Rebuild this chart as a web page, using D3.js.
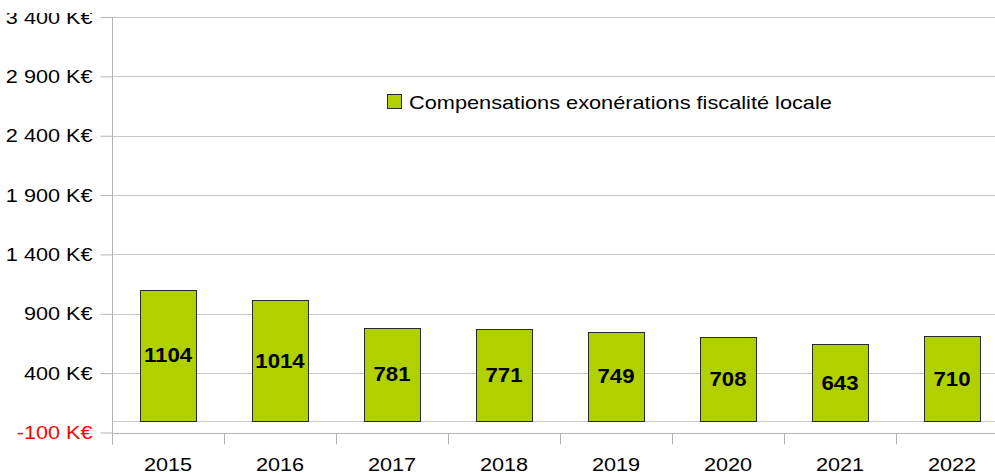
<!DOCTYPE html>
<html>
<head>
<meta charset="utf-8">
<script src="https://cdn.jsdelivr.net/npm/d3@7"></script>
<style>
  body { margin: 0; background: #fff; }
  svg { display: block; font-family: "Liberation Sans", Arial, sans-serif; }
</style>
</head>
<body>
<svg id="chart"></svg>
<script>
const years  = ["2015", "2016", "2017", "2018", "2019", "2020", "2021", "2022"]
const values = [1104, 1014, 781, 771, 749, 708, 643, 710]
const yTicks = [-100, 400, 900, 1400, 1900, 2400, 2900, 3400]
const seriesName = "Compensations exonérations fiscalité locale"

const width = 995, height = 473
const plotLeft = 112, plotRight = 1008, plotTop = 17, plotBottom = 432.5
const stretch = 1.14   // text in the source is a bit wider than tall

const svg = d3.select("#chart").attr("width", width).attr("height", height)

// top of the picture is cropped a little
svg.append("clipPath").attr("id", "crop")
  .append("rect").attr("x", 0).attr("y", 13).attr("width", width).attr("height", height)

const x = d3.scaleBand().domain(years).range([plotLeft, plotRight]).paddingInner(0.5).paddingOuter(0.25)
const y = d3.scaleLinear().domain([-100, 3400]).range([plotBottom, plotTop])

const fmt = v => (v < 0 ? "-" : "") + d3.format(",")(Math.abs(v)).replace(/,/g, " ") + " K€"

// gridlines
svg.append("g")
  .selectAll("line")
  .data(yTicks.concat([0]))
  .join("line")
    .attr("x1", plotLeft).attr("x2", plotRight)
    .attr("y1", d => Math.round(y(d)) + 0.5).attr("y2", d => Math.round(y(d)) + 0.5)
    .attr("stroke", "#c8c8c8")

// y axis
const yAxis = svg.append("g")
  .attr("clip-path", "url(#crop)")
  .append("g")
  .attr("transform", `translate(${plotLeft + 0.5},0)`)
  .call(d3.axisLeft(y).tickValues(yTicks).tickFormat(fmt).tickSize(12).tickSizeOuter(0))
yAxis.select(".domain").attr("stroke", "#b3b3b3").attr("d", `M0,${plotTop}V${plotBottom + 12}`)
yAxis.selectAll(".tick line").attr("stroke", "#b3b3b3")
yAxis.selectAll(".tick text")
  .attr("x", 0)
  .attr("transform", `translate(-20,0) scale(${stretch},1)`)
  .attr("font-size", 19)
  .attr("fill", d => d < 0 ? "#ff0000" : "#000")

// x axis at bottom
const xAxis = svg.append("g")
  .attr("transform", `translate(0,${Math.round(plotBottom) + 0.5})`)
xAxis.append("line").attr("x1", plotLeft).attr("x2", plotRight).attr("stroke", "#b3b3b3")
xAxis.selectAll(".sep")
  .data(d3.range(years.length + 1))
  .join("line")
    .attr("class", "sep")
    .attr("x1", i => plotLeft + i * x.step() + 0.5).attr("x2", i => plotLeft + i * x.step() + 0.5)
    .attr("y1", 0).attr("y2", 11)
    .attr("stroke", "#b3b3b3")
xAxis.selectAll("text")
  .data(years)
  .join("text")
    .attr("transform", d => `translate(${x(d) + x.bandwidth() / 2},37) scale(${stretch},1)`)
    .attr("text-anchor", "middle")
    .attr("font-size", 19)
    .text(d => d)

// bars
const bars = svg.append("g")
  .selectAll("g")
  .data(years.map((yr, i) => ({ yr, v: values[i] })))
  .join("g")

bars.append("rect")
  .attr("x", d => Math.round(x(d.yr)) + 0.5)
  .attr("y", d => Math.round(y(d.v)) + 0.5)
  .attr("width", x.bandwidth())
  .attr("height", d => Math.round(y(0)) - Math.round(y(d.v)))
  .attr("fill", "#b0d000")
  .attr("stroke", "#2a2a2a")

bars.append("text")
  .attr("transform", d => `translate(${x(d.yr) + x.bandwidth() / 2},${(y(d.v) + y(0)) / 2}) scale(1.11,1)`)
  .attr("dy", "0.36em")
  .attr("text-anchor", "middle")
  .attr("font-size", 20)
  .attr("font-weight", "bold")
  .text(d => d.v)

// legend
const legend = svg.append("g").attr("transform", "translate(387,94)")
legend.append("rect")
  .attr("x", 0.5).attr("y", 0.5).attr("width", 14).attr("height", 14)
  .attr("fill", "#b0d000").attr("stroke", "#2a2a2a")
legend.append("text")
  .attr("transform", `translate(22,14.5) scale(1.145,1)`)
  .attr("font-size", 19)
  .text(seriesName)
</script>
</body>
</html>
